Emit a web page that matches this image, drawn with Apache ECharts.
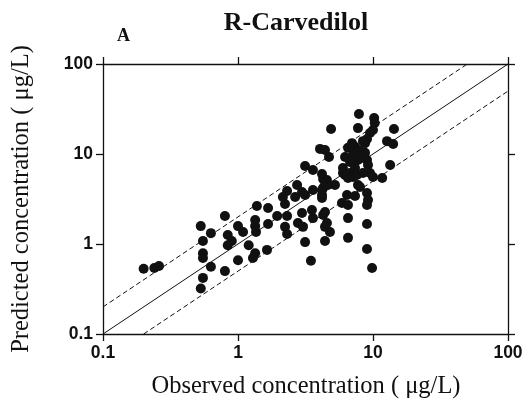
<!DOCTYPE html>
<html><head><meta charset="utf-8">
<script src="https://cdn.jsdelivr.net/npm/echarts@6/dist/echarts.min.js"></script>
<style>html,body{margin:0;padding:0;background:#fff}#c{width:528px;height:408px}</style>
</head><body><div id="c"></div>
<script>
// Observed (x) and predicted (y) concentrations, µg/L
var observed = [0.2,0.24,0.26,0.53,0.63,0.55,0.55,0.55,0.63,0.55,0.53,0.8,1.0,0.84,0.9,0.84,0.8,1.0,1.2,1.38,
  1.34,1.34,1.36,1.34,1.29,1.67,1.67,1.64,1.95,2.31,2.23,2.31,2.23,2.31,1.09,2.98,4.19,2.98,3.53,3.59,
  4.27,2.78,3.03,3.14,3.47,4.56,4.41,4.41,4.8,4.41,6.53,6.53,9.03,9.03,9.84,5.89,6.53,6.42,7.36,9.03,
  9.18,9.03,4.19,4.56,4.64,4.27,5.23,7.74,5.99,6.76,7.11,9.5,10,11.7,2.74,3.59,2.15,2.65,3.14,4.19,
  3.14,3.59,4.19,4.27,7.87,10.2,10.3,10,9.5,9.03,8.73,4.89,7.74,14.3,12.7,14.1,4.05,4.41,4.72,6.53,
  6.21,7.36,8.01,7.11,8.73,9.03,7.74,6.76,9.18,13.4,5.99,6.21,6.53,7.36,7.61,8.43,8.01,8.43,4.41,8.58,6.99,7.9];
var predicted = [0.53,0.54,0.57,1.58,1.32,1.08,0.79,0.7,0.56,0.42,0.32,2.05,1.58,1.26,1.08,0.97,0.5,0.66,0.97,2.64,
  1.85,1.58,1.36,0.79,0.7,2.51,1.67,0.86,2.05,3.88,2.78,2.05,1.55,1.29,1.36,3.78,3.5,2.21,2.39,1.94,
  2.1,1.71,1.55,1.05,0.65,1.71,2.27,1.55,1.36,1.08,1.94,1.17,1.67,0.88,0.54,2.86,2.71,3.5,3.41,3.69,
  3.08,2.71,3.25,5.14,4.52,4.19,4.52,4.52,6.15,6.15,5.55,6.15,5.55,5.41,4.52,3.98,3.33,3.33,3.5,3.98,
  7.36,6.64,5.99,5.27,27.8,25.1,22.1,18.5,17.1,14.7,13.2,19.0,19.4,19.0,13.9,12.9,11.4,11.1,9.26,11.7,
  9.26,12.0,10.5,9.75,10.3,8.58,8.58,8.15,7.55,7.55,6.99,5.84,5.41,6.99,5.84,6.15,4.3,13.9,4.52,9.03,13.2,11.0];
var tickValues = [0.1, 1, 10, 100];
var foldFactors = [1, 2, 0.5];   // identity, 2-fold upper, 2-fold lower
var axisMin = 0.1, axisMax = 100;
var xTitle = 'Observed concentration ( \u03bcg/L)';
var yTitle = 'Predicted concentration ( \u03bcg/L)';

var pts = observed.map(function(v,i){return [v, predicted[i]];});
function foldLine(f){
  var x0 = Math.max(axisMin, axisMin / f), x1 = Math.min(axisMax, axisMax / f);
  return [[x0, x0*f],[x1, x1*f]];
}
var chart = echarts.init(document.getElementById('c'), null, {renderer:'canvas'});
var tickFont = {fontFamily:'Liberation Sans, Arial', fontWeight:'bold', fontSize:17.5, color:'#111'};
var axisLine = {show:true, onZero:false, lineStyle:{color:'#111', width:1.3}};
var serif = 'Liberation Serif, Times New Roman';
function mkAxis(pos, show){
  return {type:'log', logBase:10, min:axisMin, max:axisMax, position:pos,
    axisLine:axisLine, axisTick:{show:true, inside:false, length:7, lineStyle:{color:'#111',width:1.3}},
    minorTick:{show:false}, splitLine:{show:false},
    axisLabel:Object.assign({show:show, margin:10, formatter:function(v){return String(+v);}}, tickFont)};
}
chart.setOption({
  animation:false,
  backgroundColor:'#fff',
  title:[
    {text:'R-Carvedilol', left:291, top:5, textAlign:'center',
     textStyle:{fontFamily:serif, fontWeight:'bold', fontSize:26, color:'#111'}},
    {text:'A', left:112, top:22,
     textStyle:{fontFamily:serif, fontWeight:'bold', fontSize:18, color:'#111'}}
  ],
  graphic:[
    {type:'text', x:306, y:387,
     style:{text:xTitle, font:'24.5px ' + serif, fill:'#111', align:'center', verticalAlign:'middle'}},
    {type:'text', x:22, y:199, rotation:Math.PI/2,
     style:{text:yTitle, font:'24.5px ' + serif, fill:'#111', align:'center', verticalAlign:'middle'}}
  ],
  grid:{left:103, right:20, top:64, bottom:74, containLabel:false},
  xAxis:[mkAxis('bottom', true), mkAxis('top', false)],
  yAxis:[mkAxis('left', true), mkAxis('right', false)],
  series:[
    {type:'line', data:foldLine(foldFactors[0]), symbol:'none', lineStyle:{color:'#111', width:1}, z:1},
    {type:'line', data:foldLine(foldFactors[1]), symbol:'none', lineStyle:{color:'#111', width:1, type:[5,3]}, z:1},
    {type:'line', data:foldLine(foldFactors[2]), symbol:'none', lineStyle:{color:'#111', width:1, type:[5,3]}, z:1},
    {type:'scatter', data:pts, symbol:'circle', symbolSize:10, itemStyle:{color:'#111', opacity:1}, z:3}
  ]
});
</script></body></html>
